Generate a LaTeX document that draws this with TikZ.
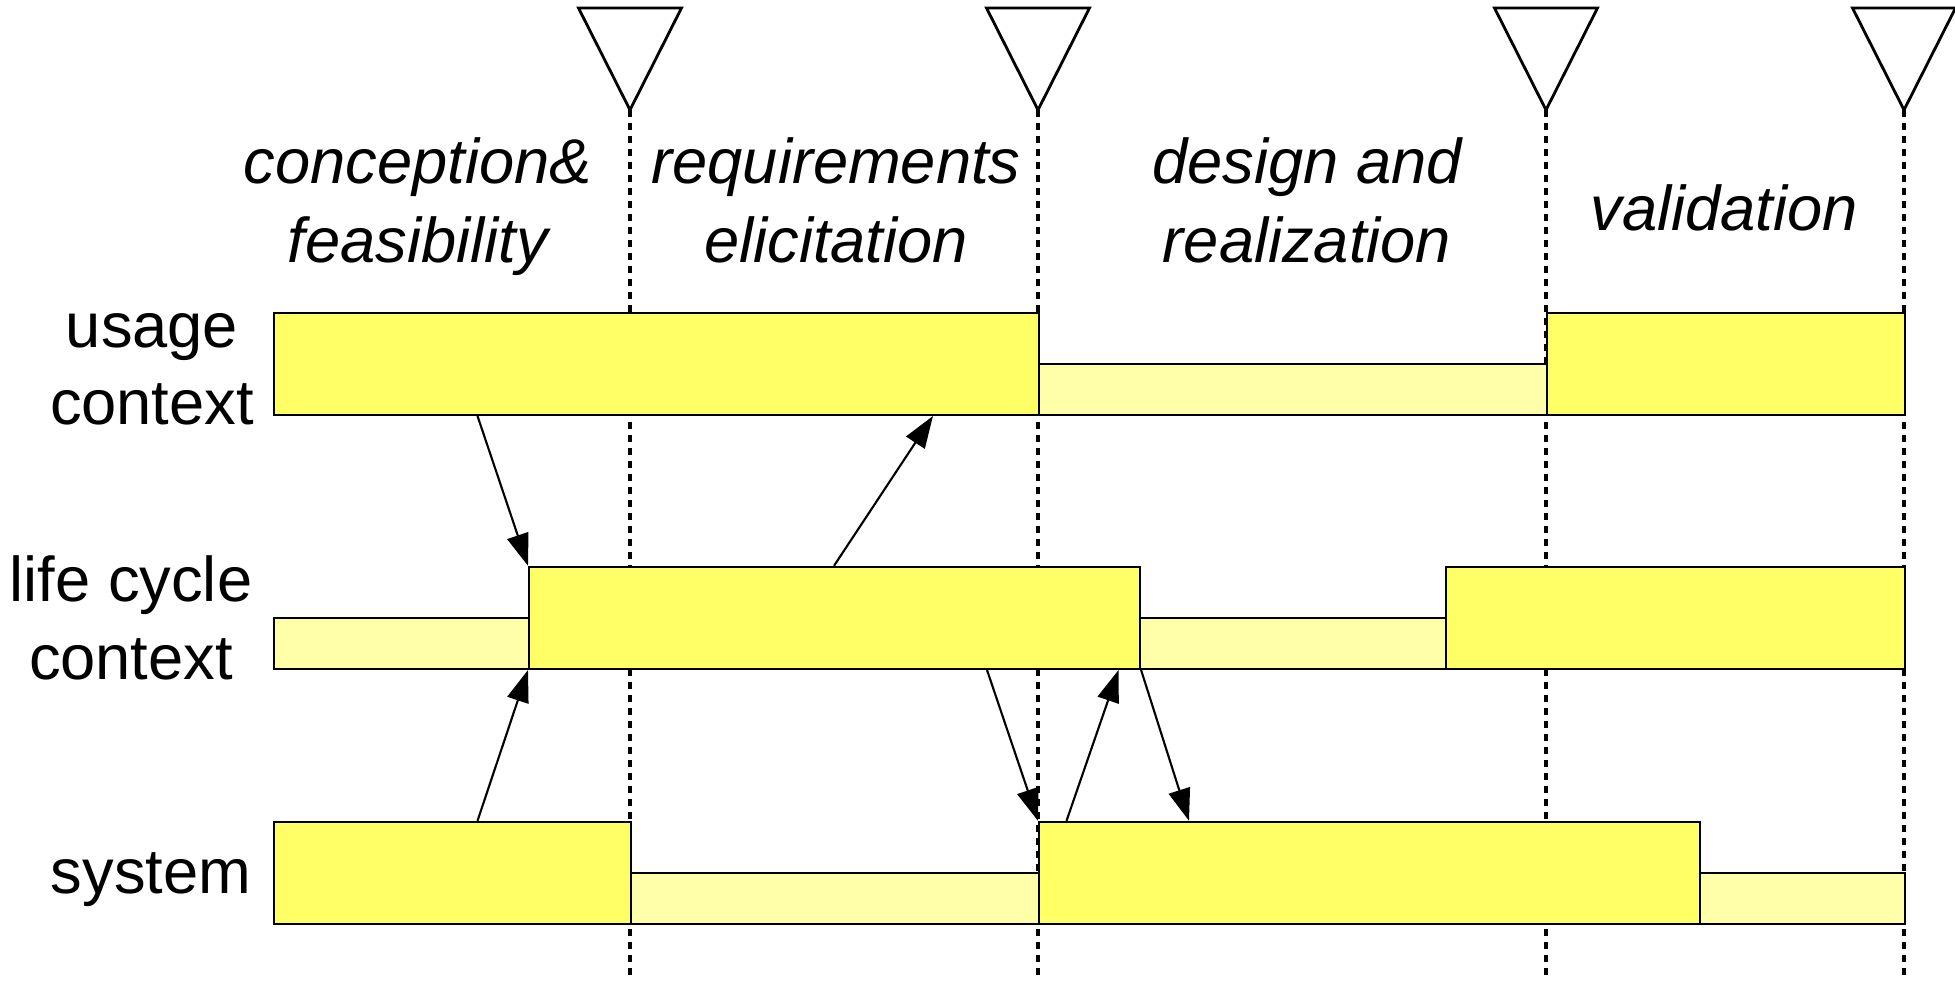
\documentclass[tikz,border=0pt]{standalone}
\usepackage{fontspec}
\setmainfont{Liberation Sans}
\usetikzlibrary{arrows.meta, calc}
\definecolor{hiyellow}{RGB}{255,255,102}
\definecolor{loyellow}{RGB}{255,255,170}
\tikzset{tarrow/.style = {line width=1.2pt, -{Triangle[length=0.64cm,width=0.44cm]}}}
\tikzset{tallbox/.style = {draw, line width=1.25pt, fill=hiyellow, inner sep=0pt,
    minimum height=2.04cm, anchor=south west}}
\tikzset{lowbox/.style = {draw, line width=1.25pt, fill=loyellow, inner sep=0pt,
    minimum height=1.02cm, anchor=south west}}
\tikzset{milestone/.style = {draw, line width=1.6pt, line join=miter}}
\tikzset{phaseline/.style = {line width=2.3pt, dash pattern=on 4pt off 3.4pt}}
\tikzset{rowlabel/.style = {align=center, font=\fontsize{36pt}{44pt}\selectfont}}
\tikzset{phaselabel/.style = {align=center, font=\fontsize{36pt}{45pt}\selectfont\itshape}}

\begin{document}
\begin{tikzpicture}[x=0.02cm,y=-0.02cm]
    \useasboundingbox (0,0) rectangle (1955,982);

    % milestones and phase borders
    \foreach \x [count=\i] in {630,1038,1546,1904} {
        \coordinate (m\i) at (\x,110);
        \draw[phaseline] (m\i) -- ++(0,869);
        \draw[milestone] (m\i) -- ++(-51.5,-102) -- ++(103,0) -- cycle;
    }

    % usage context
    \node[lowbox,minimum width=10.16cm] (u2) at (1038,416) {};
    \node[tallbox,minimum width=15.3cm] (u1) at (273,416) {};
    \node[tallbox,minimum width=7.16cm] (u3) at (1546,416) {};

    % life cycle context
    \node[lowbox,minimum width=5.1cm] (l1) at (273,670) {};
    \node[lowbox,minimum width=6.12cm] (l3) at (1139,670) {};
    \node[tallbox,minimum width=12.22cm] (l2) at (528,670) {};
    \node[tallbox,minimum width=9.18cm] (l4) at (1445,670) {};

    % system
    \node[lowbox,minimum width=8.16cm] (s2) at (630,925) {};
    \node[lowbox,minimum width=4.1cm] (s4) at (1699,925) {};
    \node[tallbox,minimum width=7.14cm] (s1) at (273,925) {};
    \node[tallbox,minimum width=13.22cm] (s3) at (1038,925) {};

    \node[rowlabel] (lu) at (152,369) {usage\\context};
    \node[rowlabel] (ll) at (131,618) {life cycle\\context};
    \node[rowlabel] (ls) at (151,880) {system};

    \node[phaselabel] (p1) at (418,207) {\strut conception\&\\\strut feasibility};
    \node[phaselabel] (p2) at (836,207) {\strut requirements\\\strut elicitation};
    \node[phaselabel] (p3) at (1307,207) {\strut design and\\\strut realization};
    \node[phaselabel] (p4) at (1724,215) {\strut validation};

    \draw[tarrow] ($(u1.south west)+(204.5,0)$) to (l2.north west);
    \draw[tarrow] ($(s1.north west)+(204.5,0)$) to (l2.south west);
    \draw[tarrow] ($(l2.north west)+(306,0)$) to ($(u1.south west)+(660,0)$);
    \draw[tarrow] ($(l2.south west)+(459,0)$) to (s3.north west);
    \draw[tarrow] ($(s3.north west)+(28.5,0)$) to ($(l2.south east)+(-22.5,0)$);
    \draw[tarrow] (l2.south east) to ($(s3.north west)+(151,0)$);
\end{tikzpicture}
\end{document}
